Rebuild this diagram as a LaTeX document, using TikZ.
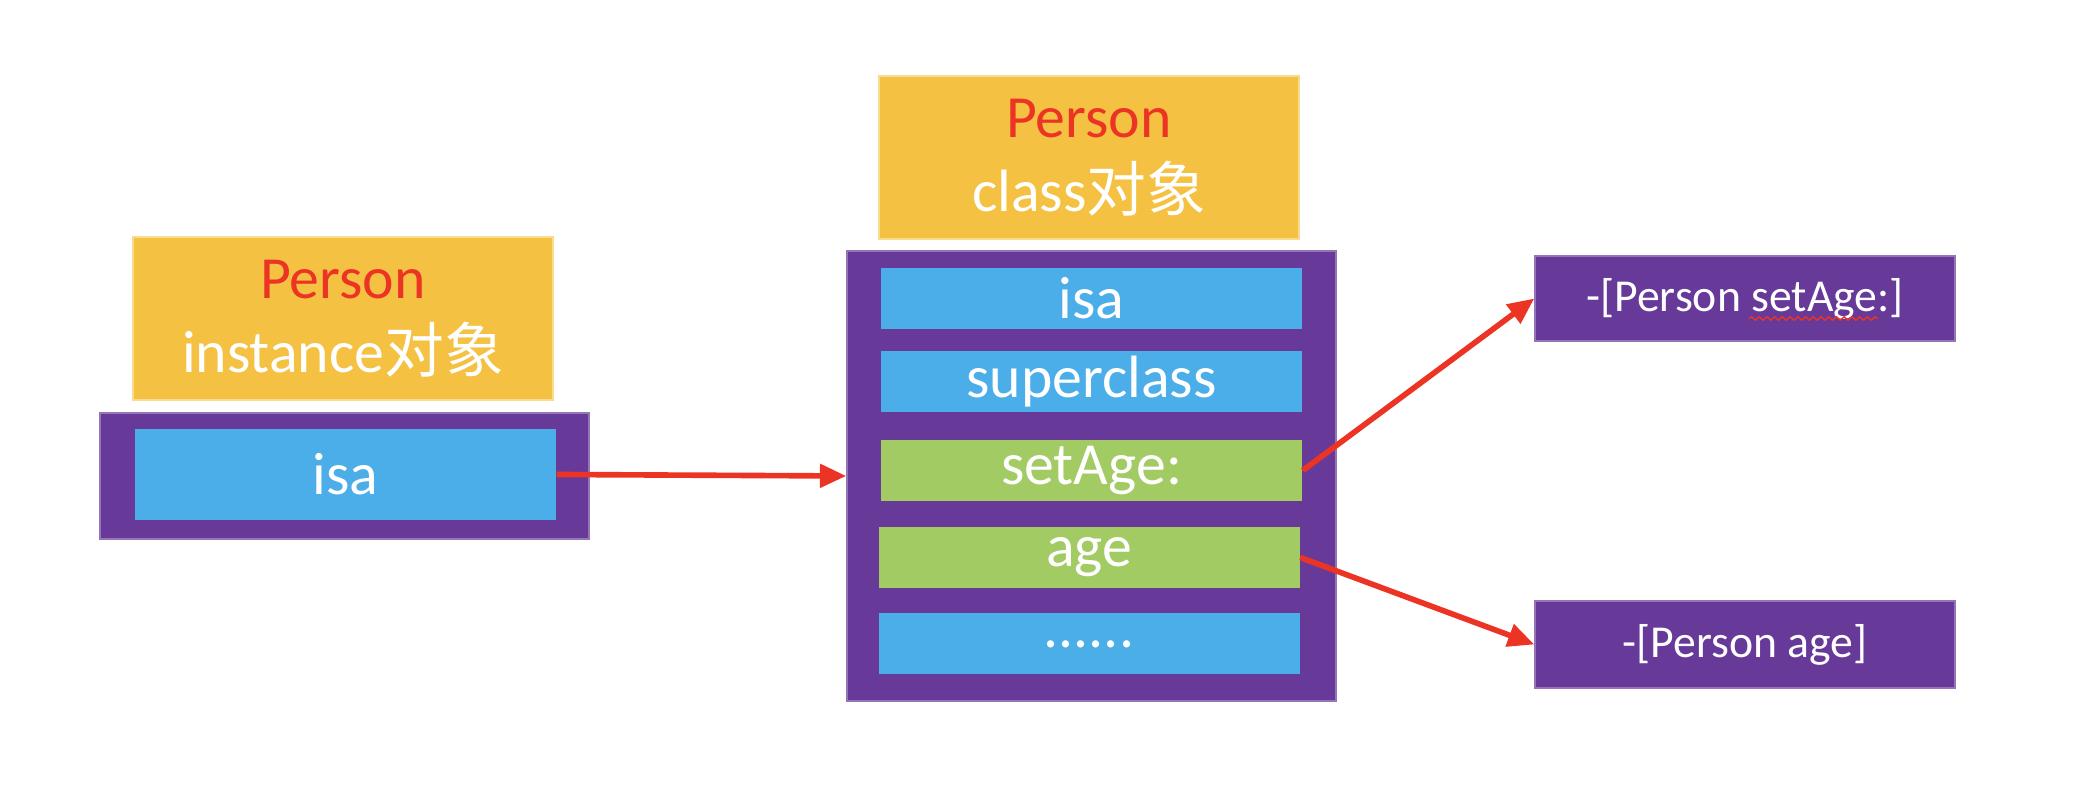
\documentclass[tikz,border=0pt]{standalone}
\usepackage{fontspec}
\setmainfont{Carlito}
\newfontfamily\cjk{Noto Sans CJK SC}
\usetikzlibrary{arrows.meta,decorations.pathmorphing,calc}
\definecolor{gold}{RGB}{245,193,67}
\definecolor{plum}{RGB}{103,58,154}
\definecolor{sky}{RGB}{75,174,232}
\definecolor{leaf}{RGB}{162,203,100}
\definecolor{signal}{RGB}{236,52,36}
\newcommand\rowdots{......}

\begin{document}
\begin{tikzpicture}[
    banner/.style={fill=gold, draw=gold!60!white, line width=0.4pt, minimum width=4.2cm,
      minimum height=1.63cm, inner sep=0pt, align=center, text=white,
      font=\fontsize{17}{21}\selectfont},
    frame/.style={fill=plum, draw=plum!70!white, line width=0.4pt, inner sep=0pt,
      minimum width=4.89cm},
    slot/.style={fill=sky, minimum width=4.21cm, minimum height=0.61cm, inner sep=0pt,
      text=white, font=\fontsize{17}{20}\selectfont},
    meth/.style={fill=plum, draw=plum!70!white, line width=0.4pt, minimum width=4.2cm,
      minimum height=0.85cm, inner sep=0pt, text=white, font=\fontsize{13}{16}\selectfont},
    link/.style={-{Triangle[length=7.5pt,width=6.5pt]}, line width=1.6pt, color=signal}]

  \useasboundingbox (0,0) rectangle (20.90,7.86);

  % ---- instance object -------------------------------------------------------
  \node[banner] (insttitle) at (3.43,4.675)
    {\textcolor{signal}{Person}\\instance{\cjk 对象}};
  \node[frame, minimum height=1.26cm] (instbox) at (3.445,3.10) {};
  \node[slot, minimum height=0.91cm] (instisa) at (3.455,3.115) {isa};

  % ---- class object: title, frame and its rows -------------------------------
  \node[banner] (clstitle) at (10.89,6.285)
    {\textcolor{signal}{Person}\\class{\cjk 对象}};
  \node[frame, minimum height=4.50cm] (clsbox) at (10.915,3.10) {};
  \foreach \n/\x/\y/\c/\t in {isa/10.915/4.875/sky/isa,
                              super/10.915/4.045/sky/superclass,
                              setage/10.915/3.155/leaf/setAge:,
                              age/10.89/2.285/leaf/age,
                              more/10.89/1.42/sky/\rowdots} {
    \node[slot, fill=\c] (\n) at (\x,\y) {\t};
  }

  % ---- method implementations ------------------------------------------------
  \node[meth] (setimp) at (17.45,4.875) {-[Person setAge:]};
  \node[meth, minimum height=0.87cm] (ageimp) at (17.45,1.415) {-[Person age]};
  % spell-check squiggle under setAge:
  \draw[signal, line width=0.4pt, decorate,
        decoration={snake, amplitude=0.5pt, segment length=2.2pt}]
    ($(setimp.center)+(0.04,-0.20)$) -- ($(setimp.center)+(1.33,-0.20)$);

  % ---- pointers ----------------------------------------------------------------
  \draw[link] (instisa.east) -- (clsbox.west);
  \draw[link] (setage.east) -- (setimp.west);
  \draw[link] (age.east) -- (ageimp.west);
\end{tikzpicture}
\end{document}
